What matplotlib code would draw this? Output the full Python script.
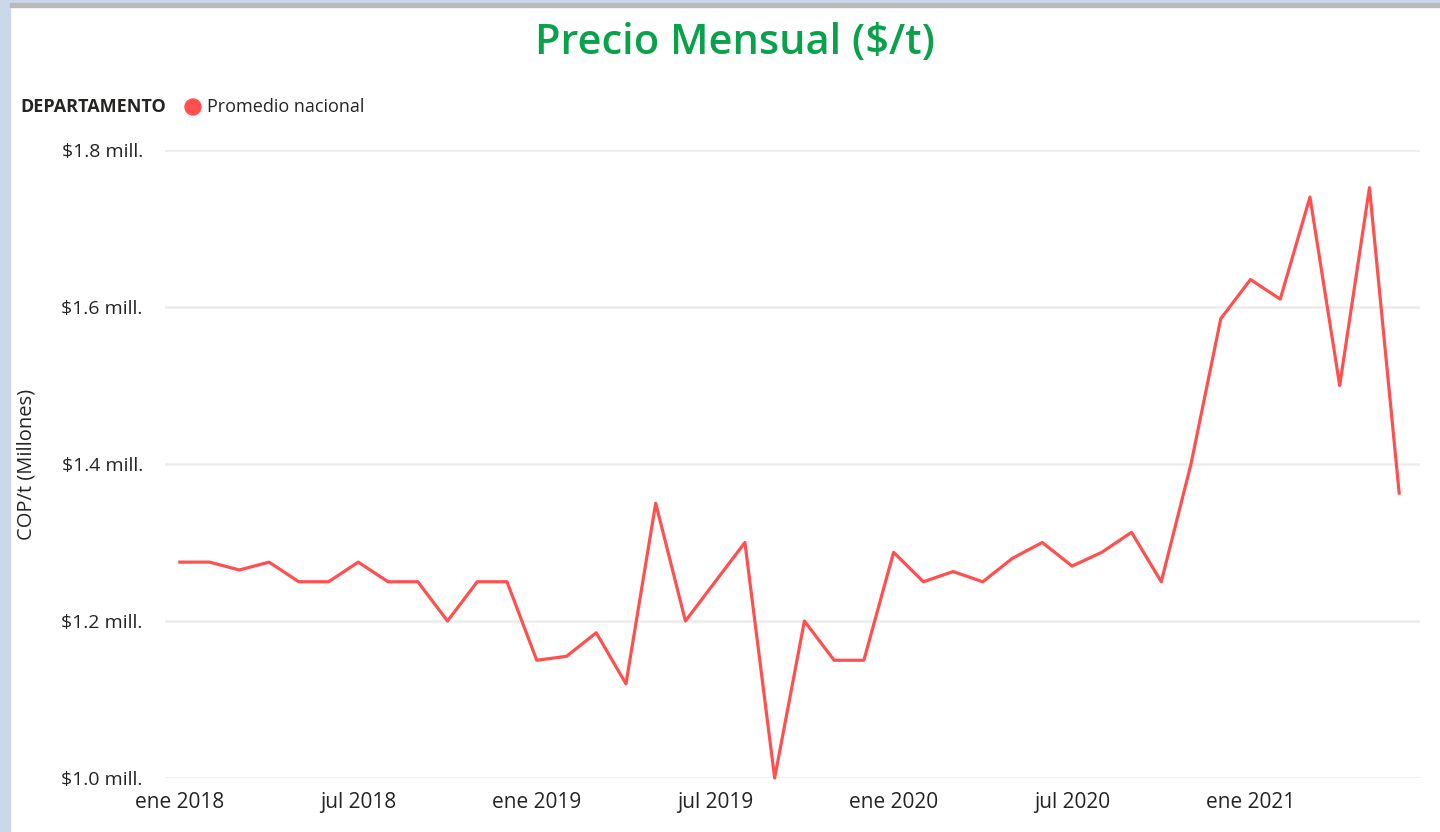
import matplotlib
matplotlib.use("Agg")
import matplotlib.pyplot as plt
from matplotlib.patches import Rectangle, Ellipse

plt.rcParams['font.family'] = ['Open Sans', 'DejaVu Sans']

# meses desde ene 2018 hasta jun 2021
meses = ["ene 2018", "feb 2018", "mar 2018", "abr 2018", "may 2018", "jun 2018",
         "jul 2018", "ago 2018", "sep 2018", "oct 2018", "nov 2018", "dic 2018",
         "ene 2019", "feb 2019", "mar 2019", "abr 2019", "may 2019", "jun 2019",
         "jul 2019", "ago 2019", "sep 2019", "oct 2019", "nov 2019", "dic 2019",
         "ene 2020", "feb 2020", "mar 2020", "abr 2020", "may 2020", "jun 2020",
         "jul 2020", "ago 2020", "sep 2020", "oct 2020", "nov 2020", "dic 2020",
         "ene 2021", "feb 2021", "mar 2021", "abr 2021", "may 2021", "jun 2021"]
# precio promedio nacional en millones COP/t
precio = [1.275, 1.275, 1.265, 1.275, 1.25, 1.25,
          1.275, 1.25, 1.25, 1.20, 1.25, 1.25,
          1.15, 1.155, 1.185, 1.12, 1.35, 1.20,
          1.25, 1.30, 1.00, 1.20, 1.15, 1.15,
          1.2875, 1.25, 1.263, 1.25, 1.28, 1.30,
          1.27, 1.2875, 1.313, 1.25, 1.40, 1.585,
          1.635, 1.61, 1.74, 1.50, 1.752, 1.363]
yticks = [1.0, 1.2, 1.4, 1.6, 1.8]
xtick_labels = ["ene 2018", "jul 2018", "ene 2019", "jul 2019", "ene 2020", "jul 2020", "ene 2021"]

fig = plt.figure(figsize=(14.4, 8.32), dpi=100)
fig.patch.set_facecolor('white')

# marco de la captura (franja azul izquierda y barra superior)
fig.patches.append(Rectangle((0, 0), 10/1440, 1, transform=fig.transFigure, color='#cbd8ea', zorder=0))
fig.patches.append(Rectangle((0, 1 - 3/832), 1, 3/832, transform=fig.transFigure, color='#cbd8ea', zorder=0))
fig.patches.append(Rectangle((10/1440, 1 - 7/832), 1, 4/832, transform=fig.transFigure, color='#b9b9b9', zorder=0))

ax = fig.add_axes([165/1440, 1 - 778/832, 1255/1440, 628/832])
x = list(range(len(precio)))
ax.plot(x, precio, color='#ff4f4f', linewidth=2.3, clip_on=False, zorder=3)

ax.set_xlim(-0.5, 41.7)
ax.set_ylim(1.0, 1.8)
ax.set_yticks(yticks)
ax.set_yticklabels(['$%.1f mill.' % v for v in yticks], fontsize=14, color='#252423')
ax.set_xticks([meses.index(m) for m in xtick_labels])
ax.set_xticklabels(xtick_labels, fontsize=15, color='#252423')
ax.tick_params(axis='both', length=0)
ax.tick_params(axis='y', pad=16)
ax.tick_params(axis='x', pad=10)
ax.grid(axis='y', color='#ececec', linewidth=1.8)
ax.set_axisbelow(True)
for s in ax.spines.values():
    s.set_visible(False)

# titulo del eje y
fig.text(27/1440, 1 - 464/832, 'COP/t (Millones)', fontsize=14.5, color='#252423',
         rotation=90, ha='center', va='center')

fig.text(735/1440, 1 - 43/832, 'Precio Mensual ($/t)', fontsize=30, fontweight='semibold',
         color='#0aa14b', ha='center', va='center')
# leyenda
fig.text(20/1440, 1 - 107/832, 'DEPARTAMENTO', fontsize=13, fontweight='bold',
         color='#252423', ha='left', va='center')
fig.patches.append(Ellipse((193/1440, 1 - 107/832), 16/1440, 16/832,
                           transform=fig.transFigure, color='#ff4f4f'))
fig.text(207/1440, 1 - 107/832, 'Promedio nacional', fontsize=13,
         color='#252423', ha='left', va='center')

fig.savefig('out.png', dpi=100)
